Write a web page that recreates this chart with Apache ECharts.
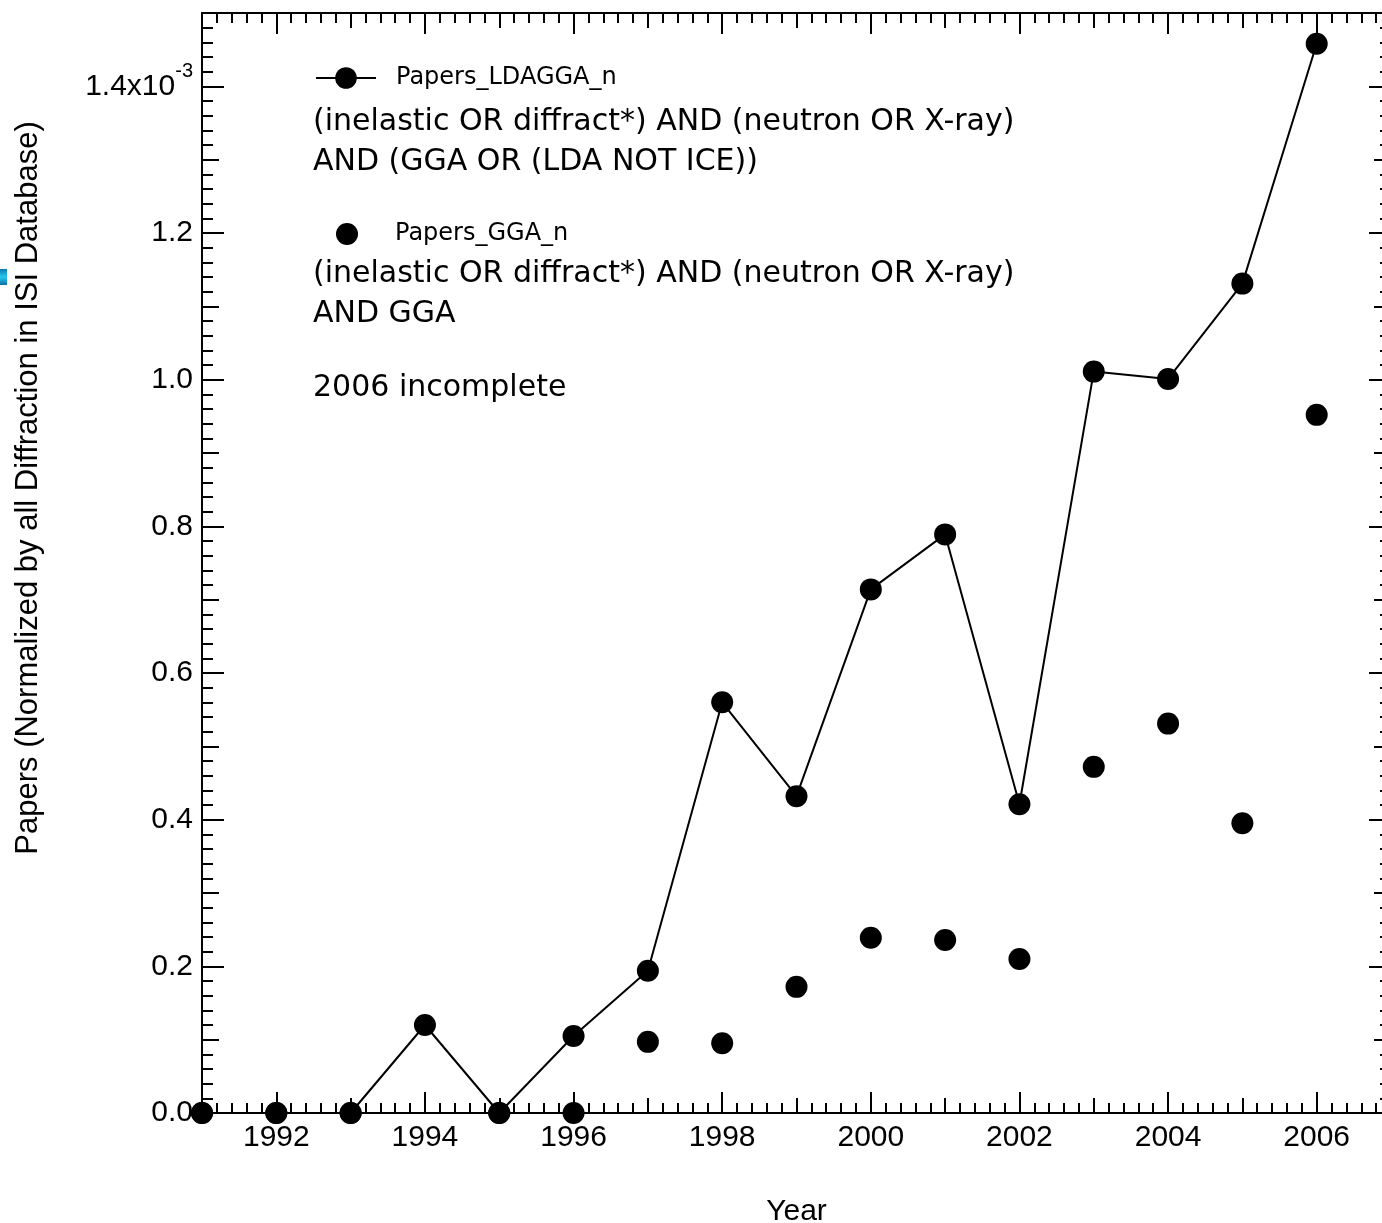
<!DOCTYPE html>
<html>
<head>
<meta charset="utf-8">
<title>Papers LDAGGA / GGA</title>
<script src="https://cdn.jsdelivr.net/npm/echarts@6/dist/echarts.min.js"></script>
<style>
    html, body { margin: 0; padding: 0; background: #fff; }
    #chart { width: 1382px; height: 1223px; }
</style>
</head>
<body>
<div id="chart"></div>
<script type="text/javascript">
// publication years
var years = [1991, 1992, 1993, 1994, 1995, 1996, 1997, 1998, 1999, 2000, 2001, 2002, 2003, 2004, 2005, 2006];
// papers normalized by all diffraction papers, in units of 1e-3
var papersLdaGga = [0, 0, 0, 0.120, 0, 0.105, 0.194, 0.560, 0.432, 0.714, 0.789, 0.421, 1.011, 1.001, 1.131, 1.458];
var papersGga = [0, 0, 0, null, 0, 0, 0.097, 0.095, 0.172, 0.239, 0.236, 0.210, 0.472, 0.531, 0.395, 0.952];
// labelled (long) ticks
var xLabelYears = [1992, 1994, 1996, 1998, 2000, 2002, 2004, 2006];
var yLabelValues = [0, 0.2, 0.4, 0.6, 0.8, 1.0, 1.2, 1.4];

var tickFont = '"Liberation Sans", Arial, Helvetica, sans-serif';
var textFont = '"DejaVu Sans", sans-serif';
var black = '#000';

function pairs (values) {
    var out = [];
    years.forEach(function (y, i) {
        if (values[i] !== null) {
            out.push([y, values[i]]);
        }
    });
    return out;
}

// one axis of the box; several are stacked to get three tick lengths
function boxAxis (position, min, max, extra) {
    var axis = {
        type: 'value',
        position: position,
        min: min,
        max: max,
        splitLine: { show: false },
        axisLine: { show: true, onZero: false, lineStyle: { color: black, width: 2 } },
        axisTick: { show: true, inside: true, lineStyle: { color: black, width: 2 } },
        axisLabel: { show: false },
        minorTick: { show: false }
    };
    return echarts.util.merge(axis, extra, true);
}

var xMedium = {
    interval: 1,
    axisTick: { length: 15 },
    minorTick: { show: true, splitNumber: 5, length: 10, lineStyle: { color: black, width: 2 } }
};
var xMajor = {
    axisLine: { show: false },
    axisTick: { length: 21, customValues: xLabelYears }
};
var yMedium = {
    interval: 0.1,
    axisTick: { length: 17 },
    minorTick: { show: true, splitNumber: 5, length: 11, lineStyle: { color: black, width: 2 } }
};
var yMajor = {
    axisLine: { show: false },
    axisTick: { length: 22, customValues: yLabelValues }
};

var option = {
    animation: false,
    backgroundColor: '#fff',
    grid: { left: 202, top: 13, width: 1189, height: 1100, containLabel: false, outerBoundsMode: 'none' },
    legend: [
        {
            data: ['Papers_LDAGGA_n'],
            left: 315,
            top: 66,
            padding: 0,
            itemWidth: 60,
            itemHeight: 27,
            selectedMode: false,
            textStyle: { fontFamily: textFont, fontSize: 24, color: black, padding: [0, 0, 0, 15] }
        },
        {
            data: ['Papers_GGA_n'],
            left: 336,
            top: 222,
            padding: 0,
            itemWidth: 22,
            itemHeight: 22,
            selectedMode: false,
            textStyle: { fontFamily: textFont, fontSize: 24, color: black, padding: [0, 0, 0, 32] }
        }
    ],
    xAxis: [
        boxAxis('bottom', 1991, 2007, echarts.util.merge({
            name: 'Year',
            nameLocation: 'middle',
            nameGap: 84,
            nameTextStyle: { fontFamily: tickFont, fontSize: 30, color: black },
            axisLabel: {
                show: true,
                customValues: xLabelYears,
                margin: 10,
                fontFamily: tickFont,
                fontSize: 30,
                color: black,
                formatter: function (v) {
                    return String(v);
                }
            }
        }, xMedium, false)),
        boxAxis('bottom', 1991, 2007, xMajor),
        boxAxis('top', 1991, 2007, xMedium),
        boxAxis('top', 1991, 2007, xMajor)
    ],
    yAxis: [
        boxAxis('left', 0, 1.5, echarts.util.merge({
            axisLabel: {
                show: true,
                customValues: yLabelValues,
                margin: 9,
                fontFamily: tickFont,
                fontSize: 30,
                color: black,
                formatter: function (v) {
                    if (Math.abs(v - 1.4) < 1e-9) {
                        return '{m|1.4x10}{s|-3}';
                    }
                    return v.toFixed(1);
                },
                rich: {
                    m: { fontFamily: tickFont, fontSize: 30, color: black },
                    s: { fontFamily: tickFont, fontSize: 20, color: black, padding: [0, 0, 30, 0] }
                }
            }
        }, yMedium, false)),
        boxAxis('left', 0, 1.5, yMajor),
        boxAxis('right', 0, 1.5, yMedium),
        boxAxis('right', 0, 1.5, yMajor)
    ],
    graphic: [
        {
            type: 'text',
            left: 313,
            top: 102,
            style: {
                text: '(inelastic OR diffract*) AND (neutron OR X-ray)\nAND (GGA OR (LDA NOT ICE))',
                font: '30px ' + textFont,
                lineHeight: 40,
                fill: black
            }
        },
        {
            type: 'text',
            left: 313,
            top: 254,
            style: {
                text: '(inelastic OR diffract*) AND (neutron OR X-ray)\nAND GGA',
                font: '30px ' + textFont,
                lineHeight: 40,
                fill: black
            }
        },
        {
            type: 'text',
            left: 313,
            top: 368,
            style: {
                text: '2006 incomplete',
                font: '30px ' + textFont,
                lineHeight: 40,
                fill: black
            }
        },
        {
            type: 'text',
            x: 28,
            y: 488,
            rotation: Math.PI / 2,
            style: {
                text: 'Papers (Normalized by all Diffraction in ISI Database)',
                font: '31px ' + tickFont,
                fill: black,
                align: 'center',
                verticalAlign: 'middle'
            }
        },
        {
            // small stray mark at the left edge of the original image
            type: 'rect',
            shape: { x: 0, y: 269, width: 7, height: 16 },
            style: {
                fill: new echarts.graphic.LinearGradient(0, 0, 0, 1, [
                    { offset: 0, color: '#0c78ad' },
                    { offset: 0.5, color: '#26c9ef' },
                    { offset: 1, color: '#0a6fa3' }
                ])
            }
        }
    ],
    series: [
        {
            name: 'Papers_LDAGGA_n',
            type: 'line',
            data: pairs(papersLdaGga),
            symbol: 'circle',
            symbolSize: 22,
            showAllSymbol: true,
            clip: false,
            z: 3,
            lineStyle: { color: black, width: 2 },
            itemStyle: { color: black, opacity: 1 }
        },
        {
            name: 'Papers_GGA_n',
            type: 'scatter',
            data: pairs(papersGga),
            symbol: 'circle',
            symbolSize: 22,
            clip: false,
            z: 3,
            itemStyle: { color: black, opacity: 1 }
        }
    ]
};

var mainChart = echarts.init(document.getElementById('chart'));
mainChart.setOption(option);
</script>
</body>
</html>
